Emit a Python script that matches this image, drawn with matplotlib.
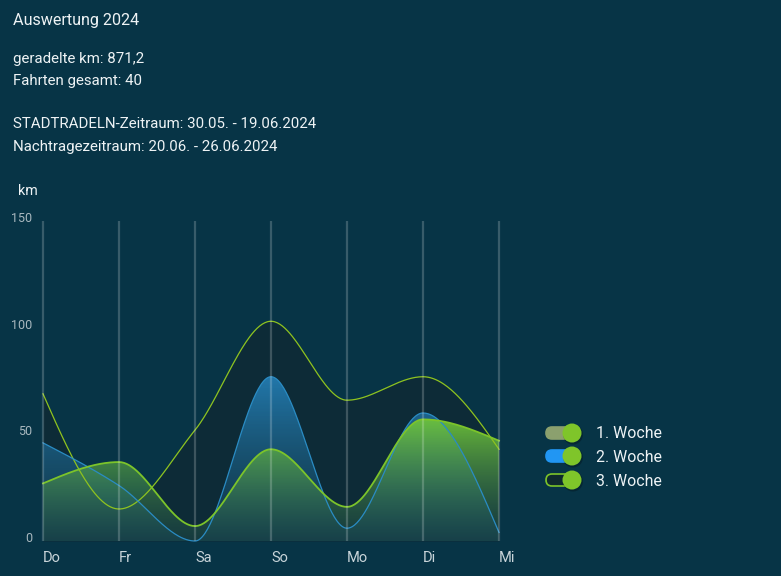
import numpy as np
import matplotlib
matplotlib.use("Agg")
import matplotlib.pyplot as plt
from matplotlib.path import Path
from matplotlib.patches import PathPatch, FancyBboxPatch, Ellipse
from matplotlib.transforms import ScaledTranslation

plt.rcParams['font.family'] = ['Roboto', 'DejaVu Sans']

# ---- data ----
days = ["Do", "Fr", "Sa", "So", "Mo", "Di", "Mi"]
week1 = [27, 37, 7, 43, 16, 57, 47]
week2 = [46, 26, 0, 77, 6, 60, 4]
week3 = [69, 15, 52, 103, 66, 77, 43]
series_names = ["1. Woche", "2. Woche", "3. Woche"]
yticks = [0, 50, 100, 150]
title = "Auswertung 2024"
info_lines = ["geradelte km: 871,2", "Fahrten gesamt: 40"]
period_lines = ["STADTRADELN-Zeitraum: 30.05. - 19.06.2024",
                "Nachtragezeitraum: 20.06. - 26.06.2024"]
unit = "km"

BG = "#073446"
W, H = 781, 576


def monotone_curve(y, n=60):
    """Smooth monotone cubic (d3 monotoneX style) drawn through the points."""
    y = np.asarray(y, float)
    x = np.arange(len(y), dtype=float)
    h = np.diff(x)
    s = np.diff(y) / h
    t = np.zeros(len(y))
    for i in range(1, len(y) - 1):
        s0, s1 = s[i - 1], s[i]
        p = (s0 * h[i] + s1 * h[i - 1]) / (h[i - 1] + h[i])
        t[i] = (np.sign(s0) + np.sign(s1)) * min(abs(s0), abs(s1), 0.5 * abs(p))
    t[0] = (3 * s[0] - t[1]) / 2
    t[-1] = (3 * s[-1] - t[-2]) / 2
    xs, ys = [], []
    for i in range(len(y) - 1):
        u = np.linspace(0, 1, n, endpoint=(i == len(y) - 2))
        h00 = 2 * u**3 - 3 * u**2 + 1
        h10 = u**3 - 2 * u**2 + u
        h01 = -2 * u**3 + 3 * u**2
        h11 = u**3 - u**2
        xs.append(x[i] + u * h[i])
        ys.append(h00 * y[i] + h10 * h[i] * t[i] + h01 * y[i + 1] + h11 * h[i] * t[i + 1])
    return np.concatenate(xs), np.concatenate(ys)


def area_path(xs, ys):
    verts = np.column_stack([np.r_[xs, xs[-1], xs[0]], np.r_[ys, 0, 0]])
    return Path(verts, closed=False)


fig = plt.figure(figsize=(W / 100, H / 100), dpi=100)
fig.patch.set_facecolor(BG)

# axes in pixel coords: x 43..499, y 221 (150) .. 541 (0)
ax = fig.add_axes([43 / W, (H - 541) / H, (499 - 43) / W, (541 - 221) / H])
ax.set_facecolor("none")
ax.set_xlim(0, len(days) - 1)
ax.set_ylim(0, 150)
for sp in ax.spines.values():
    sp.set_visible(False)

# week 3: dark fill with line
x3, y3 = monotone_curve(week3)
ax.fill_between(x3, y3, 0, color="#0d2b37", lw=0, zorder=1)


def gradient_fill(xs, ys, rgb, a_top, a_bot, ytop, z):
    patch = PathPatch(area_path(xs, ys), facecolor="none", edgecolor="none")
    ax.add_patch(patch)
    nrow = 256
    grad = np.zeros((nrow, 1, 4))
    frac = np.linspace(1, 0, nrow)  # top row = 1
    top = np.array(rgb[0]); bot = np.array(rgb[1])
    for k in range(3):
        grad[:, 0, k] = bot[k] + (top[k] - bot[k]) * frac
    grad[:, 0, 3] = a_bot + (a_top - a_bot) * frac
    im = ax.imshow(grad, extent=[0, len(days) - 1, 0, ytop], aspect="auto",
                   origin="upper", zorder=z, interpolation="bilinear")
    im.set_clip_path(patch)


# week 2: blue gradient
x2, y2 = monotone_curve(week2)
gradient_fill(x2, y2, [(0.14, 0.49, 0.70), (0.10, 0.33, 0.45)], 0.95, 0.25, max(week2), 2)
# week 1: green gradient
x1, y1 = monotone_curve(week1)
gradient_fill(x1, y1, [(0.45, 0.79, 0.22), (0.18, 0.40, 0.33)], 0.9, 0.25, max(week1), 3)

ax.set_xlim(0, len(days) - 1)
ax.set_ylim(0, 150)

# lines
ax.plot(x3, y3, color="#8fc31f", lw=0.9, zorder=5, clip_on=False)
ax.plot(x2, y2, color="#2a8cc4", lw=0.9, zorder=5, clip_on=False)
ax.plot(x1, y1, color="#7cc42a", lw=1.3, zorder=5, clip_on=False)

# vertical gridlines
for i in range(len(days)):
    ax.plot([i, i], [0, 150], color="white", alpha=0.2, lw=1.6, zorder=6,
            solid_capstyle="butt", clip_on=False)

# ticks
ax.set_xticks(range(len(days)))
ax.set_xticklabels(days, ha="left", color="#c9d5da", fontsize=10.5)
ax.set_yticks(yticks)
ax.set_yticklabels([str(v) for v in yticks], color="#a9b8bf", fontsize=9)
ax.tick_params(axis="both", length=0)
ax.tick_params(axis="y", pad=8)
ax.tick_params(axis="x", pad=7)
off = ScaledTranslation(0, 4 / 100, fig.dpi_scale_trans)
for lab in ax.get_yticklabels():
    lab.set_transform(lab.get_transform() + off)

# texts
def ftext(x, y, s, size, color="#eef3f5", **kw):
    fig.text(x / W, 1 - y / H, s, fontsize=size, color=color, va="center", ha="left", **kw)

ftext(13, 21, title, 11.6)
ftext(13, 58.5, info_lines[0], 10.8)
ftext(13, 80.5, info_lines[1], 10.8)
ftext(13, 124.5, period_lines[0], 10.8)
ftext(13, 146.5, period_lines[1], 10.8)
ftext(18, 191, unit, 10.3)

# legend toggles
track_cols = ["#8ba06e", "#2196f3", "#0f2a2e"]
edge_cols = ["#8ba06e", "#2196f3", "#7cc42a"]
ys_leg = [433, 456, 480]
for name, yc, tc, ec in zip(series_names, ys_leg, track_cols, edge_cols):
    yf = 1 - yc / H
    track = FancyBboxPatch((546 / W, yf - 6 / H), 30 / W, 12 / H,
                           boxstyle="round,pad=0,rounding_size=0.0077",
                           transform=fig.transFigure, facecolor=tc, edgecolor=ec,
                           lw=1.2, mutation_aspect=W / H)
    fig.patches.append(track)
    knob_sh = Ellipse((573 / W, yf - 1.5 / H), 20 / W, 20 / H,
                      transform=fig.transFigure, facecolor="black",
                      alpha=0.25, edgecolor="none")
    fig.patches.append(knob_sh)
    knob = Ellipse((572 / W, yf), 19 / W, 19 / H,
                   transform=fig.transFigure, facecolor="#7fc52a", edgecolor="none")
    fig.patches.append(knob)
    ftext(596, yc + 1, name, 11.4, color="#eef3f5")

fig.savefig("out.png", dpi=100, facecolor=BG)
